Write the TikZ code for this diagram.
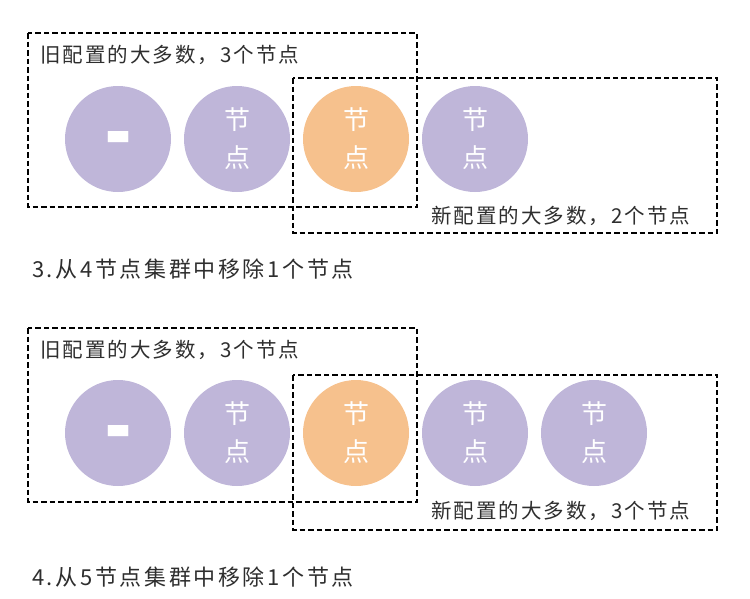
\documentclass[tikz,border=0pt]{standalone}
\usepackage{graphicx}
\usepackage{fontspec}
\setmainfont{Noto Sans CJK SC}
\newfontfamily\cjk{Noto Sans CJK SC}
\newfontfamily\cjkspaced[LetterSpace=10]{Noto Sans CJK SC}
\newfontfamily\cjkcap[LetterSpace=12]{Noto Sans CJK SC}
\definecolor{nodepurple}{HTML}{BFB6D9}
\definecolor{nodeorange}{HTML}{F6C18D}
\definecolor{txt}{HTML}{2E2E2E}
\tikzset{
  every node/.style={inner sep=0pt,outer sep=0pt},
  srv/.style={circle,minimum size=106pt,fill=#1,text=white,font=\cjk\fontsize{26}{38}\selectfont,align=center},
  boxline/.style={draw=black,line width=2.8pt,dash pattern=on 5.5pt off 3pt},
  lbl/.style={text=txt,font=\cjkspaced\fontsize{20.5}{24}\selectfont,anchor=west},
  captxt/.style={text=txt,font=\cjkcap\fontsize{22}{26}\selectfont,anchor=west}
}
\newcommand{\onemark}{\raisebox{-25pt}[0pt][0pt]{\scalebox{1.0}[3.2]{\cjk\bfseries\fontsize{22}{24}\selectfont 一}}}
\begin{document}
\begin{tikzpicture}[x=1pt,y=-1pt]
\useasboundingbox (0,0) rectangle (750,598);
% ---------- panel 3 ----------
\coordinate (oa1) at (28,33); \coordinate (oa2) at (417,207);
\coordinate (na1) at (293,78); \coordinate (na2) at (717,233);
\draw[boxline] (oa1) rectangle (oa2);
\draw[boxline] (na1) rectangle (na2);
\node[srv=nodepurple] (a1) at (118,139) {\onemark};
\node[srv=nodepurple] (a2) at (237,139) {节\\点};
\node[srv=nodeorange] (a3) at (356,139) {节\\点};
\node[srv=nodepurple] (a4) at (475,139) {节\\点};
\node[lbl] (oldA) at (40,55) {旧配置的大多数，3个节点};
\node[lbl] (newA) at (431,216) {新配置的大多数，2个节点};
\node[captxt] (capA) at (32,269) {3.从4节点集群中移除1个节点};
% ---------- panel 4 ----------
\coordinate (ob1) at (28,328); \coordinate (ob2) at (417,502);
\coordinate (nb1) at (293,375); \coordinate (nb2) at (717,530);
\draw[boxline] (ob1) rectangle (ob2);
\draw[boxline] (nb1) rectangle (nb2);
\node[srv=nodepurple] (b1) at (118,433) {\onemark};
\node[srv=nodepurple] (b2) at (237,433) {节\\点};
\node[srv=nodeorange] (b3) at (356,433) {节\\点};
\node[srv=nodepurple] (b4) at (475,433) {节\\点};
\node[srv=nodepurple] (b5) at (594,433) {节\\点};
\node[lbl] (oldB) at (40,350) {旧配置的大多数，3个节点};
\node[lbl] (newB) at (431,511) {新配置的大多数，3个节点};
\node[captxt] (capB) at (32,577) {4.从5节点集群中移除1个节点};
\end{tikzpicture}
\end{document}
